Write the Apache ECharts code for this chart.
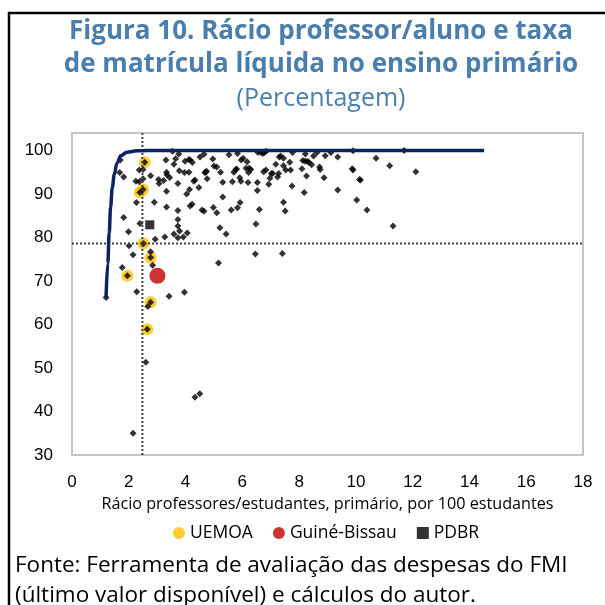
<!DOCTYPE html>
<html>
<head>
<meta charset="utf-8">
<script src="https://cdn.jsdelivr.net/npm/echarts@6/dist/echarts.min.js"></script>
<style>
html, body { margin: 0; padding: 0; background: #fff; }
#chart { width: 605px; height: 605px; }
</style>
</head>
<body>
<div id="chart"></div>
<script>
// all countries (black diamonds): [rácio, taxa]
var others = [
    [1.70, 97.8], [3.31, 97.8], [3.54, 99.8], [3.76, 99.2], [3.65, 98.1], [3.59, 96.8],
    [3.98, 97.5], [4.12, 97.9], [4.16, 97.8], [4.24, 97.2], [4.51, 98.5], [4.65, 99.1],
    [4.96, 98.0], [5.00, 96.4], [5.10, 96.2], [5.53, 99.0], [5.83, 99.3], [6.03, 98.2],
    [5.96, 97.8], [6.13, 95.9], [6.24, 95.9], [6.55, 99.5], [1.68, 94.9], [1.82, 93.9],
    [2.37, 95.5], [2.50, 95.6], [2.77, 94.2], [3.33, 95.0], [3.34, 94.4], [3.78, 95.3],
    [3.96, 94.9], [4.12, 95.0], [2.25, 92.9], [2.37, 92.8], [2.50, 93.5], [3.05, 93.3],
    [3.07, 92.4], [3.23, 93.1], [3.44, 93.8], [3.73, 92.4], [4.33, 93.2], [4.29, 92.9],
    [4.68, 94.9], [4.71, 95.0], [4.74, 95.2], [5.23, 95.0], [5.31, 92.7], [5.65, 92.8],
    [5.70, 95.0], [5.77, 95.6], [5.80, 95.7], [5.91, 93.7], [5.95, 92.9], [6.20, 92.6],
    [6.30, 95.6], [2.27, 88.0], [2.90, 88.1], [3.33, 87.0], [3.73, 86.2], [4.04, 90.0],
    [4.14, 91.0], [4.47, 91.5], [4.16, 87.2], [4.23, 87.6], [4.58, 86.3], [4.65, 86.0],
    [4.98, 86.9], [5.10, 85.7], [5.31, 89.3], [5.61, 86.3], [5.83, 86.8], [5.92, 88.0],
    [6.60, 86.4], [1.82, 84.6], [1.99, 81.3], [2.39, 83.2], [3.73, 84.1], [3.73, 82.6],
    [3.79, 81.5], [3.59, 80.8], [3.73, 79.9], [3.92, 80.1], [4.06, 81.0], [3.27, 80.1],
    [2.93, 79.6], [5.21, 82.2], [5.43, 80.8], [6.48, 83.1], [2.01, 78.1], [2.77, 76.7],
    [2.15, 76.0], [2.84, 73.6], [1.77, 73.1], [5.16, 74.1], [6.46, 76.2], [2.28, 67.5],
    [3.42, 66.5], [3.96, 67.4], [2.67, 64.1], [2.60, 51.3], [4.33, 43.3], [4.50, 44.1],
    [2.15, 35.0], [1.20, 66.2], [6.65, 99.6], [6.72, 99.3], [6.77, 99.5], [6.84, 99.8],
    [7.18, 96.8], [7.30, 98.5], [7.35, 98.7], [7.45, 98.2], [7.45, 96.5], [7.53, 95.5],
    [7.67, 97.3], [7.70, 95.5], [7.28, 94.7], [7.24, 93.9], [7.07, 94.7], [7.02, 94.7],
    [6.97, 93.6], [6.93, 92.2], [6.83, 95.5], [6.75, 95.1], [6.53, 92.6], [6.53, 90.8],
    [7.77, 99.5], [7.75, 91.8], [7.45, 88.1], [7.51, 86.1], [8.10, 95.8], [8.18, 90.3],
    [8.13, 97.7], [8.22, 99.2], [8.21, 97.5], [8.29, 97.5], [8.35, 97.2], [8.26, 94.1],
    [8.44, 96.7], [8.51, 98.7], [8.63, 99.5], [8.72, 96.2], [8.74, 95.6], [8.88, 93.7],
    [8.92, 98.8], [9.12, 99.5], [9.36, 98.5], [9.36, 90.9], [9.90, 99.9], [9.87, 95.8],
    [9.90, 95.5], [10.13, 93.3], [10.16, 93.2], [10.03, 88.6], [10.39, 86.3], [10.71, 98.2],
    [11.19, 96.5], [11.31, 82.6], [11.70, 100.0], [12.11, 95.1], [7.41, 76.3], [4.76, 93.5],
    [3.33, 90.6], [6.17, 97.4], [6.22, 94.9]
];
var uemoa = [
    [2.56, 97.3], [2.39, 90.3], [2.50, 91.0], [2.52, 78.6],
    [2.77, 75.4], [1.95, 71.2], [2.77, 65.1], [2.65, 58.9]
];
var guineBissau = [[3.01, 71.2]];
var pdbr = [[2.74, 82.9]];

// fronteira de eficiência
var frontier = [
    [1.20, 66.2], [1.26, 74.0], [1.31, 81.0], [1.36, 87.0], [1.42, 91.5], [1.49, 94.5],
    [1.58, 97.0], [1.72, 98.8], [1.94, 99.6], [2.30, 99.9], [3.00, 100.0], [14.52, 100.0]
];

// medianas (linhas pontilhadas)
var medianX = 2.48;
var medianY = 78.6;

var xMin = 0, xMax = 18, xStep = 2;
var yMin = 30, yMax = 104, yStep = 10;

var chart = echarts.init(document.getElementById('chart'));

var allCountries = others.concat(uemoa);

var titleStyle = { color: '#4a7ead', fontSize: 26, fontWeight: 'bold', fontFamily: 'Open Sans' };

var option = {
    animation: false,
    backgroundColor: '#fff',
    textStyle: { fontFamily: 'Open Sans' },
    title: [
        { text: 'Figura 10. Rácio professor/aluno e taxa', left: 316, top: 14, textAlign: 'center', textStyle: titleStyle },
        { text: 'de matrícula líquida no ensino primário', left: 316, top: 47, textAlign: 'center', textStyle: titleStyle },
        {
            text: '(Percentagem)',
            left: 316, top: 81, textAlign: 'center',
            textStyle: { color: '#4a7ead', fontSize: 25, fontWeight: 'normal', fontFamily: 'Open Sans' }
        }
    ],
    graphic: [
        { type: 'line', shape: { x1: 9, y1: 12, x2: 9, y2: 605 }, style: { stroke: '#000', lineWidth: 2.5 } },
        { type: 'line', shape: { x1: 8, y1: 13, x2: 605, y2: 13 }, style: { stroke: '#000', lineWidth: 2.5 } },
        {
            type: 'text', left: 15, top: 551,
            style: {
                text: 'Fonte: Ferramenta de avaliação das despesas do FMI\n(último valor disponível) e cálculos do autor.',
                fill: '#000', font: '22.5px "Open Sans"', lineHeight: 30
            }
        }
    ],
    legend: {
        data: [
            { name: 'UEMOA', icon: 'circle' },
            { name: 'Guiné-Bissau', icon: 'circle' },
            { name: 'PDBR', icon: 'rect' }
        ],
        left: 168, top: 519,
        itemWidth: 12, itemHeight: 12, itemGap: 20,
        textStyle: { fontSize: 17.5, color: '#000', fontFamily: 'Open Sans' }
    },
    grid: {
        left: 72, right: 22, top: 133, bottom: 150,
        show: true, borderColor: '#c4c4c4', borderWidth: 2
    },
    xAxis: {
        type: 'value', min: xMin, max: xMax, interval: xStep,
        name: 'Rácio professores/estudantes, primário, por 100 estudantes',
        nameLocation: 'middle', nameGap: 41,
        nameTextStyle: { fontSize: 16.2, color: '#000', fontFamily: 'Open Sans' },
        axisLine: { show: false }, axisTick: { show: false }, splitLine: { show: false },
        axisLabel: { fontSize: 17, color: '#000', margin: 19, fontFamily: 'Liberation Sans' }
    },
    yAxis: {
        type: 'value', min: yMin, max: yMax, interval: yStep,
        axisLine: { show: false }, axisTick: { show: false }, splitLine: { show: false },
        axisLabel: { fontSize: 17, color: '#000', margin: 19, showMaxLabel: false, fontFamily: 'Liberation Sans' }
    },
    series: [
        {
            name: 'mediana-x', type: 'line', silent: true, symbol: 'none',
            data: [[medianX, yMin], [medianX, yMax]],
            lineStyle: { color: '#444', width: 2, type: [2, 2] }
        },
        {
            name: 'mediana-y', type: 'line', silent: true, symbol: 'none',
            data: [[xMin, medianY], [xMax, medianY]],
            lineStyle: { color: '#444', width: 2, type: [2, 2] }
        },
        {
            name: 'fronteira', type: 'line', symbol: 'none',
            smooth: 0.4, smoothMonotone: 'x',
            data: frontier,
            lineStyle: { color: '#0b2361', width: 3.5 }
        },
        {
            name: 'UEMOA', type: 'scatter', symbol: 'circle', symbolSize: 12,
            itemStyle: { color: '#ffc000' },
            data: uemoa
        },
        {
            name: 'Guiné-Bissau', type: 'scatter', symbol: 'circle', symbolSize: 16,
            itemStyle: { color: '#c00000' },
            data: guineBissau
        },
        {
            name: 'PDBR', type: 'scatter', symbol: 'rect', symbolSize: 9,
            itemStyle: { color: '#000' },
            data: pdbr
        },
        {
            name: 'países', type: 'scatter', symbol: 'diamond', symbolSize: 7,
            itemStyle: { color: '#000' },
            data: allCountries
        }
    ]
};

chart.setOption(option);
window.addEventListener('resize', function () {
    chart.resize();
});
</script>
</body>
</html>
